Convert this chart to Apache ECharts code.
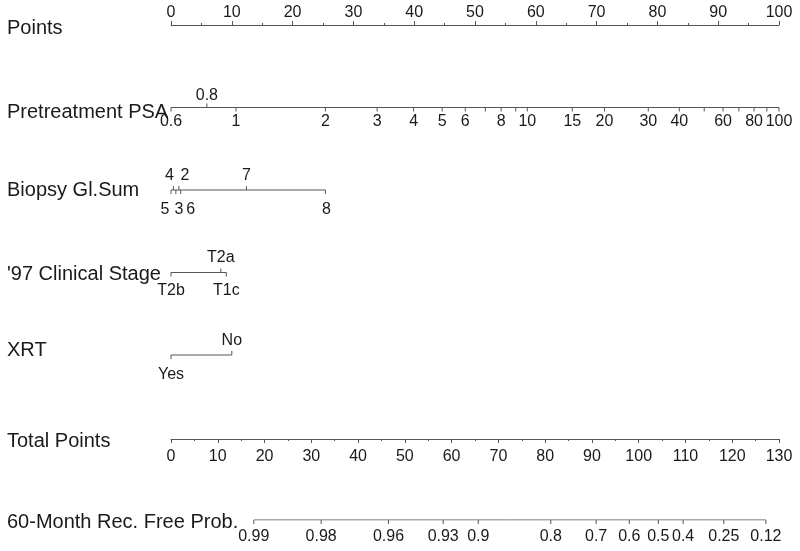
<!DOCTYPE html>
<html><head><meta charset="utf-8">
<script src="https://cdn.jsdelivr.net/npm/echarts@6/dist/echarts.min.js"></script>
<style>html,body{margin:0;padding:0;background:#fff}#c{width:800px;height:551px}</style>
</head><body><div id="c"></div>
<script>
// ---------- data ----------
const rowNames = ['Points', 'Pretreatment PSA', 'Biopsy Gl.Sum', "'97 Clinical Stage", 'XRT', 'Total Points', '60-Month Rec. Free Prob.'];

const psaLabels = ['0.6','0.8','1','2','3','4','5','6','','8','','10','15','20','30','40','','60','','80','','100'];
const psaPoints = [0, 5.9, 10.7, 25.4, 33.9, 39.9, 44.6, 48.4, 51.7, 54.3, 56.7, 58.6, 66.0, 71.3, 78.5, 83.6, 87.7, 90.8, 93.4, 95.9, 98.0, 100];

const gleasonLabels = ['5','4','3','2','6','7','8'];
const gleasonPoints = [0, 0.4, 0.8, 1.3, 1.6, 12.4, 25.4];

const stageLabels = ['T2b','T2a','T1c'];
const stagePoints = [0, 8.2, 9.1];

const xrtLabels = ['Yes','No'];
const xrtPoints = [0, 10];

const probLabels = ['0.99','0.98','0.96','0.93','0.9','0.8','0.7','0.6','0.5','0.4','0.25','0.12'];
const probTotalPoints = [17.7, 32.1, 46.5, 58.2, 65.7, 81.2, 90.9, 98.0, 104.2, 109.5, 118.2, 127.2];

// ---------- style ----------
const FONT = '"Liberation Sans", Arial, Helvetica, sans-serif';
const LINE = '#555';
const TEXT = '#1a1a1a';
const TICK_FS = 16;
const ROW_FS = 20;

const psaSide = psaLabels.map((l, i) => i === 1 ? 'up' : 'down');
const gleasonSide = ['down','up','down','up','down','up','down'];
const gleasonDx = [-6, -4, 3, 6, 10, 0, 1];
const stageSide = ['down','up','down'];
const xrtSide = ['down','up'];
const probSide = probLabels.map(() => 'down');

const rowGap = { 1: {up: 12, down: 14}, 2: {up: 14, down: 20}, 3: {up: 15, down: 18}, 4: {up: 14, down: 20}, 6: {up: 14, down: 17} };

function rowSeries(rowIdx, xAxisIndex, labels, positions, sides, dxs) {
  return [{
    type: 'line', xAxisIndex: xAxisIndex, yAxisIndex: 0, silent: true,
    symbol: 'none', animation: false,
    lineStyle: { color: LINE, width: 1 },
    data: [[Math.min(...positions), rowIdx], [Math.max(...positions), rowIdx]]
  }, {
    type: 'custom', xAxisIndex: xAxisIndex, yAxisIndex: 0, silent: true, animation: false,
    data: positions.map(p => [p, rowIdx]),
    renderItem: function (params, api) {
      const i = params.dataIndex;
      const p = api.coord([api.value(0), api.value(1)]);
      const dir = sides[i] === 'up' ? -1 : 1;
      const gap = rowGap[rowIdx][sides[i]];
      const children = [{
        type: 'line',
        shape: { x1: p[0], y1: p[1], x2: p[0], y2: p[1] + dir * 4 },
        style: { stroke: LINE, lineWidth: 1 }
      }];
      if (labels[i] !== '') {
        children.push({
          type: 'text',
          style: {
            text: labels[i], x: p[0] + (dxs ? dxs[i] : 0), y: p[1] + dir * gap,
            align: 'center', verticalAlign: 'middle',
            font: TICK_FS + 'px ' + FONT, fill: TEXT
          }
        });
      }
      return { type: 'group', children: children };
    }
  }];
}

const rowLabelRich = {
  n: { fontSize: ROW_FS, fontFamily: FONT, color: TEXT },
  dn: { fontSize: ROW_FS, fontFamily: FONT, color: TEXT, padding: [6, 0, 0, 0] },
  dn2: { fontSize: ROW_FS, fontFamily: FONT, color: TEXT, padding: [9, 0, 0, 0] },
  dn1: { fontSize: ROW_FS, fontFamily: FONT, color: TEXT, padding: [4, 0, 0, 0] },
  dn3: { fontSize: ROW_FS, fontFamily: FONT, color: TEXT, padding: [7, 0, 0, 0] },
  up: { fontSize: ROW_FS, fontFamily: FONT, color: TEXT, padding: [0, 0, 10, 0] }
};
const rowLabelKey = ['dn3', 'dn2', 'n', 'dn1', 'up', 'dn3', 'dn1'];

const option = {
  animation: false,
  backgroundColor: '#fff',
  grid: { left: 171, right: 21, top: 25, bottom: 31, containLabel: false },
  xAxis: [{
    type: 'value', min: 0, max: 100, interval: 10, position: 'top',
    axisLine: { show: true, lineStyle: { color: LINE, width: 1 } },
    axisTick: { show: true, length: 4, lineStyle: { color: LINE } },
    minorTick: { show: true, splitNumber: 2, length: 2, lineStyle: { color: LINE } },
    axisLabel: { fontSize: TICK_FS, fontFamily: FONT, color: TEXT, margin: 4 },
    splitLine: { show: false }
  }, {
    type: 'value', min: 0, max: 130, interval: 10, position: 'bottom', offset: -81,
    axisLine: { show: true, lineStyle: { color: LINE, width: 1 } },
    axisTick: { show: true, length: 4, lineStyle: { color: LINE } },
    minorTick: { show: true, splitNumber: 2, length: 2, lineStyle: { color: LINE } },
    axisLabel: { fontSize: TICK_FS, fontFamily: FONT, color: TEXT, margin: 10 },
    splitLine: { show: false }
  }],
  yAxis: [{
    type: 'category', data: rowNames, inverse: true, boundaryGap: false,
    axisLine: { show: false }, axisTick: { show: false }, splitLine: { show: false },
    axisLabel: {
      align: 'left', margin: 164,
      formatter: (v, i) => '{' + rowLabelKey[i] + '|' + v + '}',
      rich: rowLabelRich
    }
  }],
  series: [].concat(
    rowSeries(1, 0, psaLabels, psaPoints, psaSide),
    rowSeries(2, 0, gleasonLabels, gleasonPoints, gleasonSide, gleasonDx),
    rowSeries(3, 0, stageLabels, stagePoints, stageSide),
    rowSeries(4, 0, xrtLabels, xrtPoints, xrtSide),
    rowSeries(6, 1, probLabels, probTotalPoints, probSide)
  )
};

const chart = echarts.init(document.getElementById('c'), null, { renderer: 'canvas' });
chart.setOption(option);
</script>
</body></html>
